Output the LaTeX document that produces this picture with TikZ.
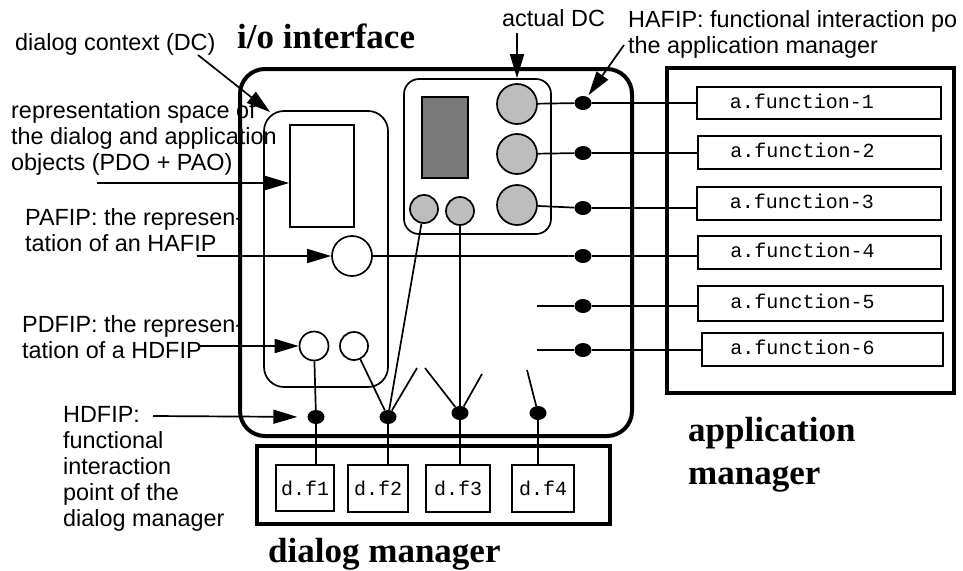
\documentclass[tikz,border=0pt]{standalone}
\usepackage{fontspec}
\setmainfont{Liberation Sans}
\newfontfamily\tmsfont{Liberation Serif}
\newfontfamily\courfont{Liberation Mono}
\usetikzlibrary{arrows.meta,calc,shapes.geometric}
\definecolor{lgray}{HTML}{BDBDBD}
\definecolor{dgray}{HTML}{7A7A7A}
\begin{document}
\begin{tikzpicture}[x=1pt,y=-1pt,
 thinl/.style={line width=1.7pt},
 arr/.style={line width=1.7pt,-{Triangle[length=24pt,width=14pt]}},
 lbl/.style={font=\fontsize{23.4}{26}\selectfont, anchor=base west, align=left, inner sep=0pt},
 ttl/.style={font=\tmsfont\fontsize{35}{43}\selectfont\bfseries, anchor=base west, align=left, inner sep=0pt},
 mono/.style={font=\courfont\fontsize{20}{24}\selectfont, inner sep=0pt},
 rbox/.style={draw, rectangle, inner sep=0pt, line width=1.8pt},
 gcirc/.style={draw, circle, fill=lgray, inner sep=0pt, line width=1.7pt},
 wcirc/.style={draw, circle, fill=white, inner sep=0pt, line width=1.7pt},
 fdot/.style={ellipse, fill=black, minimum width=17pt, minimum height=14pt, inner sep=0pt},
 rrect/.style={draw, rectangle, inner sep=0pt},
]
\useasboundingbox[fill=white] (0,0) rectangle (963,570);

% ---- titles and labels (multi-line nodes: base = last line)
\node[ttl] (tio) at (237,48) {i/o interface};
\node[ttl] (tdm) at (268,562) {dialog manager};
\node[ttl] (tam) at (688,484) {application\\manager};
\node[lbl] (ladc) at (502,27) {actual DC};
\node[lbl] (lhafip) at (628,53) {HAFIP: functional interaction po\\the application manager};
\node[lbl] (ldc) at (15,50) {dialog context (DC)};
\node[lbl] (lrep) at (11,170) {representation space of\\the dialog and application\\objects (PDO + PAO)};
\node[lbl] (lpafip) at (25,251) {PAFIP: the represen-\\tation of an HAFIP};
\node[lbl] (lpdfip) at (22,358) {PDFIP: the represen-\\tation of a HDFIP};
\node[lbl] (lhdfip) at (63,526) {HDFIP:\\functional\\interaction\\point of the\\dialog manager};

% ---- big boxes
\node[rrect, rounded corners=25pt, line width=4pt, minimum width=392pt, minimum height=367pt] (io) at (436,252.5) {};
\node[rrect, line width=4pt, minimum width=353pt, minimum height=78pt] (dm) at (433.5,485) {};
\node[rrect, line width=3.5pt, minimum width=287pt, minimum height=325pt] (am) at (810.5,230.5) {};

% ---- application functions
\node[rbox, minimum width=244pt, minimum height=32pt] (af1) at (819,103) {};
\node[rbox, minimum width=243pt, minimum height=33pt] (af2) at (819.5,152.5) {};
\node[rbox, minimum width=244pt, minimum height=33pt] (af3) at (819,203.5) {};
\node[rbox, minimum width=243pt, minimum height=33pt] (af4) at (819.5,252.5) {};
\node[rbox, minimum width=245pt, minimum height=35pt] (af5) at (820.5,303.5) {};
\node[rbox, minimum width=241pt, minimum height=33pt] (af6) at (822.5,349.5) {};
\node[mono, anchor=base] (taf1) at ($(af1.center)+(-17,5)$) {a.function-1};
\node[mono, anchor=base] (taf2) at ($(af2.center)+(-17,5)$) {a.function-2};
\node[mono, anchor=base] (taf3) at ($(af3.center)+(-17,5)$) {a.function-3};
\node[mono, anchor=base] (taf4) at ($(af4.center)+(-17,5)$) {a.function-4};
\node[mono, anchor=base] (taf5) at ($(af5.center)+(-18,5)$) {a.function-5};
\node[mono, anchor=base] (taf6) at ($(af6.center)+(-20,5)$) {a.function-6};

% ---- dialog functions
\node[rbox, mono, draw, line width=1.8pt, minimum width=58pt, minimum height=46pt] (df1) at (305,488) {d.f1};
\node[rbox, mono, draw, line width=1.8pt, minimum width=60pt, minimum height=47pt] (df2) at (378,488.5) {d.f2};
\node[rbox, mono, draw, line width=1.8pt, minimum width=64pt, minimum height=47pt] (df3) at (458,488.5) {d.f3};
\node[rbox, mono, draw, line width=1.8pt, minimum width=62pt, minimum height=47pt] (df4) at (543,488.5) {d.f4};

% ---- actual DC
\node[rrect, rounded corners=15pt, line width=1.7pt, minimum width=147pt, minimum height=155pt] (adc) at (477.5,156.5) {};
\node[rrect, fill=dgray, line width=1.7pt, minimum width=46pt, minimum height=81pt] (dark) at (445,137.5) {};
\node[gcirc, minimum size=40pt] (g1) at (517,104) {};
\node[gcirc, minimum size=40pt] (g2) at (517,154) {};
\node[gcirc, minimum size=40pt] (g3) at (517,205) {};
\node[gcirc, minimum size=28pt] (s1) at (424,209) {};
\node[gcirc, minimum size=28pt] (s2) at (460,211) {};

% ---- dialog context
\node[rrect, rounded corners=20pt, line width=1.7pt, minimum width=124pt, minimum height=276pt] (ctx) at (326,249) {};
\node[rrect, line width=1.7pt, minimum width=64pt, minimum height=102pt] (wr) at (322,176) {};
\node[wcirc, minimum size=40pt] (pa) at (352,256) {};
\node[wcirc, minimum size=29pt] (pd1) at (314,346) {};
\node[wcirc, minimum size=28pt] (pd2) at (354,346) {};

% ---- interaction points
\node[fdot] (h1) at (583,103) {};
\node[fdot] (h2) at (583,153) {};
\node[fdot] (h3) at (583,208) {};
\node[fdot] (h4) at (583,256) {};
\node[fdot] (h5) at (583,306) {};
\node[fdot] (h6) at (583,350) {};
\node[fdot] (d1) at (316,417) {};
\node[fdot] (d2) at (388,417) {};
\node[fdot] (d3) at (460,413) {};
\node[fdot] (d4) at (538,413) {};

% ---- free ends
\coordinate (r5) at (537,306);
\coordinate (r6) at (537,350);
\coordinate (e2) at (417,368);
\coordinate (e3a) at (425,368);
\coordinate (e3b) at (482,374);
\coordinate (e4) at (527,370);
\coordinate (adcs) at (517,33);
\coordinate (hafs) at (624,45);
\coordinate (dcs) at (198,55);
\coordinate (reps) at (97,183);
\coordinate (pafs) at (197,256);
\coordinate (pdfs) at (200,346);
\coordinate (hdfs) at (153,416);

% ---- connectors
\draw[thinl] (g1) -- (h1) -- (af1.west |- h1);
\draw[thinl] (g2) -- (h2) -- (af2.west |- h2);
\draw[thinl] (g3) -- (h3) -- (af3.west |- h3);
\draw[thinl] (pa) -- (h4) -- (af4.west |- h4);
\draw[thinl] (r5) -- (h5) -- (af5.west |- h5);
\draw[thinl] (r6) -- (h6) -- (af6.west |- h6);
\draw[thinl] (pd1) -- (d1) -- (df1.north -| d1);
\draw[thinl] (pd2) -- (d2);
\draw[thinl] (s1) -- (d2);
\draw[thinl] (e2) -- (d2) -- (df2.north -| d2);
\draw[thinl] (s2) -- (d3) -- (df3.north -| d3);
\draw[thinl] (e3a) -- (d3);
\draw[thinl] (e3b) -- (d3);
\draw[thinl] (e4) -- (d4) -- (df4.north -| d4);

% ---- label arrows
\draw[arr] (adcs) -- (adc.north -| adcs);
\draw[arr, shorten >=2pt] (hafs) -- (h1);
\draw[arr] (dcs) -- ($(ctx.north west)+(7,2)$);
\draw[arr] (reps) -- (reps -| wr.west);
\draw[arr] (pafs) -- (pa.west);
\draw[arr] (pdfs) -- (pd1.west);
\draw[arr, shorten >=10pt] (hdfs) -- (d1);
\end{tikzpicture}
\end{document}
